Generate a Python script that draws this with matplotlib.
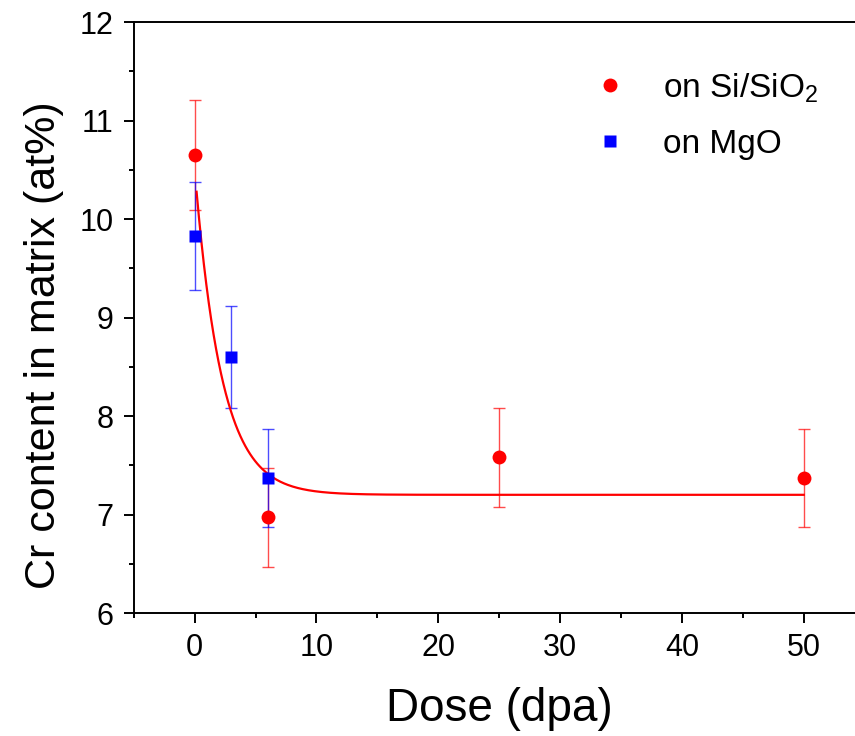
import numpy as np
import matplotlib
matplotlib.use("Agg")
import matplotlib.pyplot as plt
from matplotlib.lines import Line2D
from matplotlib.ticker import MultipleLocator

plt.rcParams['font.family'] = ['Liberation Sans', 'DejaVu Sans']
plt.rcParams['mathtext.fontset'] = 'custom'
plt.rcParams['mathtext.rm'] = 'Liberation Sans'

# data
dose_si = [0, 6, 25, 50]
cr_si = [10.65, 6.97, 7.58, 7.37]
err_si = [0.56, 0.50, 0.50, 0.50]

dose_mgo = [0, 3, 6]
cr_mgo = [9.83, 8.60, 7.37]
err_mgo = [0.55, 0.52, 0.50]

# exponential decay fit: y = y0 + A*exp(-x/t)
fit_y0 = 7.2
fit_A = 3.31
fit_t = 2.19
fit_xmin, fit_xmax = 0.16, 50

fig = plt.figure(figsize=(8.55, 7.36), dpi=100)
ax = fig.add_axes([0.1564, 0.1671, 0.8549, 0.803])

ax.errorbar(dose_si, cr_si, yerr=err_si, fmt='none', ecolor='red',
            elinewidth=1, capsize=4, capthick=1, alpha=0.7, zorder=2)
ax.errorbar(dose_mgo, cr_mgo, yerr=err_mgo, fmt='none', ecolor='blue',
            elinewidth=1, capsize=4, capthick=1, alpha=0.7, zorder=2)

xf = np.linspace(fit_xmin, fit_xmax, 500)
ax.plot(xf, fit_y0 + fit_A * np.exp(-xf / fit_t), color='red', lw=1.6, zorder=3)

ax.plot(dose_si, cr_si, 'o', color='red', ms=10, mec='none', zorder=4)
ax.plot(dose_mgo, cr_mgo, 's', color='blue', ms=9, mec='none', zorder=5)

ax.set_xlim(-5, 55)
ax.set_ylim(6, 12)
ax.xaxis.set_major_locator(MultipleLocator(10))
ax.xaxis.set_minor_locator(MultipleLocator(5))
ax.yaxis.set_major_locator(MultipleLocator(1))
ax.yaxis.set_minor_locator(MultipleLocator(0.5))
ax.tick_params(which='both', direction='out', width=1.4, labelsize=22, pad=7.5)
ax.tick_params(which='major', length=7.2)
ax.tick_params(which='minor', length=3.6)
for s in ax.spines.values():
    s.set_linewidth(1.4)

ax.set_xlabel('Dose (dpa)', fontsize=33, labelpad=17)
ax.set_ylabel('Cr content in matrix (at%)', fontsize=31)
ax.yaxis.set_label_coords(-0.096, 0.453)

handles = [
    Line2D([], [], ls='none', marker='o', color='red', ms=10, mec='none'),
    Line2D([], [], ls='none', marker='s', color='blue', ms=9, mec='none'),
]
ax.legend(handles, ['on Si/SiO$_\\mathregular{2}$', 'on MgO'], loc='upper left',
          bbox_to_anchor=(593 / 855, 1 - 71 / 736), bbox_transform=fig.transFigure,
          frameon=False, fontsize=24, handlelength=1.0, handletextpad=1.09,
          borderpad=0, borderaxespad=0, labelspacing=0.72)

fig.savefig('out.png', dpi=100)
